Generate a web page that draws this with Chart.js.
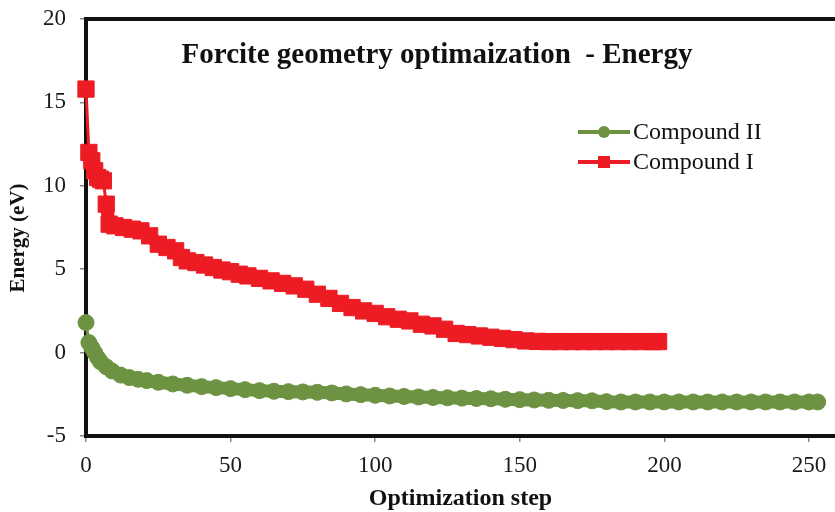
<!DOCTYPE html>
<html>
<head>
<meta charset="utf-8">
<script src="https://cdn.jsdelivr.net/npm/chart.js@4.4.1/dist/chart.umd.min.js"></script>
<style>
  html, body { margin: 0; padding: 0; background: #fff; }
  #wrap { width: 835px; height: 512px; }
</style>
</head>
<body>
<div id="wrap"><canvas id="energyChart" width="835" height="512"></canvas></div>
<script>
// values
const stepsI = [0, 1, 2, 3, 4, 5, 6, 7, 8, 10, 13, 16, 19, 22, 25, 28, 31, 33, 35, 38, 41, 44, 47, 50,
  53, 56, 60, 64, 68, 72, 76, 80, 84, 88, 92, 96, 100, 104, 108, 112, 116, 120, 124, 128, 132, 136,
  140, 144, 148, 152, 156, 160, 164, 168, 172, 176, 180, 184, 188, 192, 196, 198];
const energyI = [15.8, 12.0, 11.5, 10.9, 10.5, 10.4, 10.3, 8.9, 7.7, 7.6, 7.5, 7.4, 7.3, 7.0, 6.5, 6.3,
  6.1, 5.7, 5.5, 5.4, 5.25, 5.1, 4.95, 4.85, 4.7, 4.6, 4.45, 4.3, 4.15, 4.0, 3.8, 3.5, 3.25, 2.95, 2.7,
  2.5, 2.35, 2.15, 2.0, 1.9, 1.7, 1.6, 1.4, 1.15, 1.08, 1.0, 0.92, 0.85, 0.78, 0.7, 0.67, 0.66, 0.66,
  0.66, 0.66, 0.66, 0.66, 0.66, 0.66, 0.66, 0.66, 0.66];

const stepsII = [0, 1, 2, 3, 4, 5, 7, 9, 12, 15, 18, 21, 25, 30, 35, 40, 45, 50, 55, 60, 65, 70, 75,
  80, 85, 90, 95, 100, 105, 110, 115, 120, 125, 130, 135, 140, 145, 150, 155, 160, 165, 170, 175,
  180, 185, 190, 195, 200, 205, 210, 215, 220, 225, 230, 235, 240, 245, 250, 253];
const energyII = [1.8, 0.6, 0.3, 0.0, -0.3, -0.55, -0.85, -1.1, -1.35, -1.5, -1.6, -1.68, -1.78,
  -1.88, -1.96, -2.04, -2.1, -2.16, -2.22, -2.28, -2.32, -2.34, -2.36, -2.38, -2.42, -2.48, -2.52,
  -2.56, -2.6, -2.63, -2.66, -2.69, -2.71, -2.73, -2.75, -2.77, -2.8, -2.82, -2.84, -2.86, -2.87,
  -2.88, -2.89, -2.94, -2.96, -2.96, -2.96, -2.96, -2.96, -2.96, -2.96, -2.96, -2.96, -2.96, -2.96,
  -2.96, -2.96, -2.96, -2.96];

const xTicks = [0, 50, 100, 150, 200, 250];
const yTicks = [-5, 0, 5, 10, 15, 20];

const RED = '#ed1c24';
const GREEN = '#6d9342';
const SERIF = '"Liberation Serif", "Times New Roman", serif';

const toPoints = (xs, ys) => xs.map((x, i) => ({ x: x, y: ys[i] }));

// title, legend, y axis title and the top edge of the frame
const framePlugin = {
  id: 'frame',
  afterDraw(chart) {
    const { ctx, chartArea } = chart;
    ctx.save();
    ctx.strokeStyle = '#111';
    ctx.lineWidth = 4;
    ctx.beginPath();
    ctx.moveTo(chartArea.left - 2, chartArea.top);
    ctx.lineTo(chart.width, chartArea.top);
    ctx.stroke();

    ctx.fillStyle = '#111';
    ctx.font = 'bold 29px ' + SERIF;
    ctx.textAlign = 'center';
    ctx.textBaseline = 'middle';
    ctx.fillText('Forcite geometry optimaization  - Energy', 437, 56);

    ctx.save();
    ctx.translate(19, 238);
    ctx.rotate(-Math.PI / 2);
    ctx.font = 'bold 21px ' + SERIF;
    ctx.fillText('Energy (eV)', 0, 0);
    ctx.restore();

    const items = [
      { label: 'Compound II', color: GREEN, style: 'circle', y: 132 },
      { label: 'Compound I', color: RED, style: 'rect', y: 162 }
    ];
    ctx.font = '24px ' + SERIF;
    ctx.textAlign = 'left';
    items.forEach((it) => {
      ctx.strokeStyle = it.color;
      ctx.fillStyle = it.color;
      ctx.lineWidth = 4;
      ctx.beginPath();
      ctx.moveTo(578, it.y);
      ctx.lineTo(630, it.y);
      ctx.stroke();
      if (it.style === 'circle') {
        ctx.beginPath();
        ctx.arc(604, it.y, 6, 0, Math.PI * 2);
        ctx.fill();
      } else {
        ctx.fillRect(598, it.y - 6, 12, 12);
      }
      ctx.fillStyle = '#111';
      ctx.fillText(it.label, 633, it.y + 1);
    });
    ctx.restore();
  }
};

// thin joint from the first point, then a band as wide as the markers
const bandWidth = (thinUntil, wide) => (ctx) => (ctx.p0DataIndex < thinUntil ? 3 : wide);

new Chart(document.getElementById('energyChart').getContext('2d'), {
  type: 'scatter',
  data: {
    datasets: [
      {
        label: 'Compound II',
        data: toPoints(stepsII, energyII),
        showLine: true,
        borderColor: GREEN,
        backgroundColor: GREEN,
        borderWidth: 12,
        borderJoinStyle: 'round',
        segment: { borderWidth: bandWidth(1, 13) },
        pointStyle: 'circle',
        pointRadius: 8,
        pointBorderWidth: 1,
        clip: false
      },
      {
        label: 'Compound I',
        data: toPoints(stepsI, energyI),
        showLine: true,
        borderColor: RED,
        backgroundColor: RED,
        borderWidth: 12,
        segment: { borderWidth: bandWidth(7, 13) },
        pointStyle: 'rect',
        pointRadius: 11.5,
        pointBorderWidth: 1,
        clip: false
      }
    ]
  },
  options: {
    responsive: false,
    animation: false,
    layout: { autoPadding: false, padding: { top: 19, right: 0, left: 0, bottom: 0 } },
    plugins: {
      legend: { display: false },
      tooltip: { enabled: false }
    },
    scales: {
      x: {
        type: 'linear',
        min: 0,
        max: 259,
        afterBuildTicks: (scale) => {
          scale.ticks = xTicks.map((v) => ({ value: v }));
        },
        afterFit: (scale) => {
          scale.height = 76;
          scale.paddingLeft = 0;
          scale.paddingRight = 0;
        },
        grid: { drawOnChartArea: false, drawTicks: true, tickLength: 6, color: '#888', lineWidth: 1.5 },
        border: { display: true, color: '#111', width: 4 },
        ticks: { color: '#1a1a1a', padding: 10, maxRotation: 0, font: { family: SERIF, size: 23 } },
        title: {
          display: true,
          text: 'Optimization step',
          color: '#111',
          padding: { top: 0, bottom: 1 },
          font: { family: SERIF, size: 24, weight: 'bold', lineHeight: 1 }
        }
      },
      y: {
        min: -5,
        max: 20,
        afterBuildTicks: (scale) => {
          scale.ticks = yTicks.map((v) => ({ value: v }));
        },
        afterFit: (scale) => {
          scale.width = 86;
          scale.paddingTop = 0;
          scale.paddingBottom = 0;
        },
        grid: { drawOnChartArea: false, drawTicks: true, tickLength: 6, color: '#888', lineWidth: 1.5 },
        border: { display: true, color: '#111', width: 4 },
        ticks: { color: '#1a1a1a', padding: 14, font: { family: SERIF, size: 23 } },
        title: { display: false }
      }
    }
  },
  plugins: [framePlugin]
});
</script>
</body>
</html>
